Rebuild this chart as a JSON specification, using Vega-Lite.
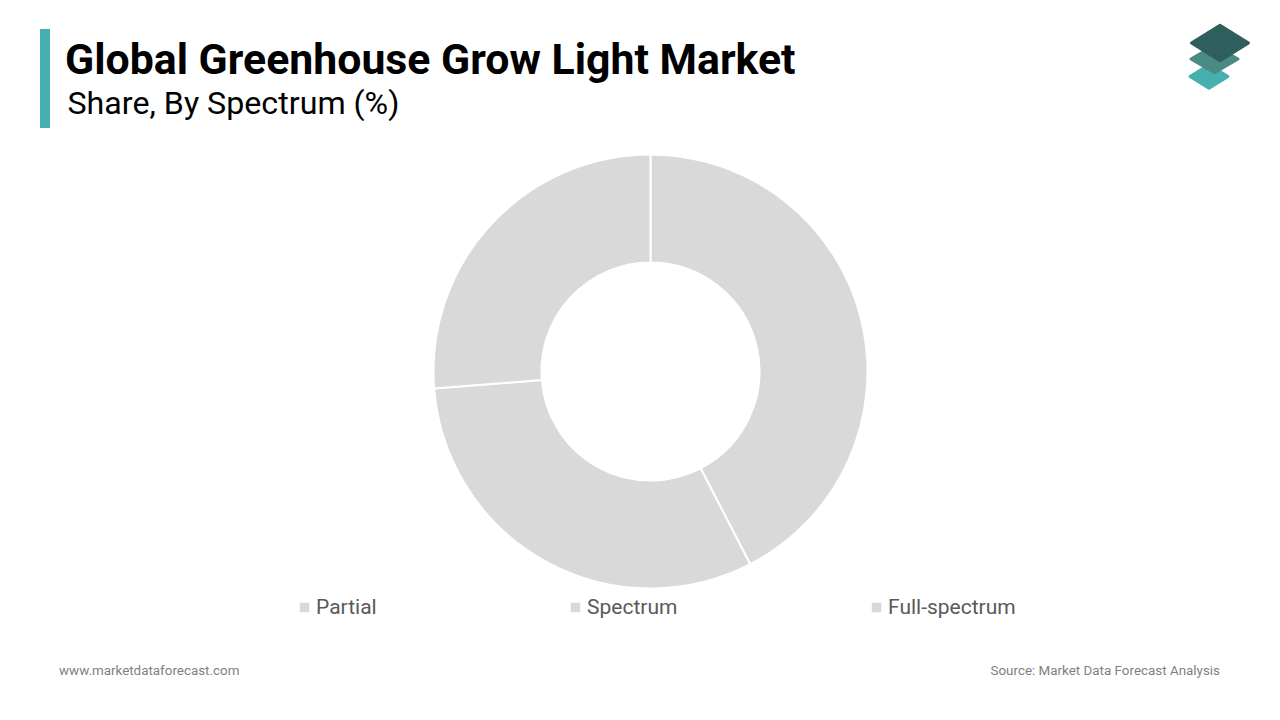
{
  "$schema": "https://vega.github.io/schema/vega-lite/v6.json",
  "width": 1280,
  "height": 720,
  "autosize": {"type": "none"},
  "padding": 0,
  "background": "white",
  "config": {
    "view": {"stroke": null},
    "axis": {"disable": true},
    "text": {"font": "Roboto"}
  },
  "layer": [
    {
      "data": {"values": [
        {"spectrum": "Partial", "share": 42.4},
        {"spectrum": "Spectrum", "share": 31.35},
        {"spectrum": "Full-spectrum", "share": 26.25}
      ]},
      "mark": {"type": "arc", "innerRadius": 109, "outerRadius": 217, "stroke": "white", "strokeWidth": 2},
      "encoding": {
        "x": {"datum": 650.5, "type": "quantitative", "scale": {"domain": [0, 1280], "range": [0, 1280], "nice": false, "zero": false}},
        "y": {"datum": 371.5, "type": "quantitative", "scale": {"domain": [0, 720], "range": [0, 720], "nice": false, "zero": false}},
        "theta": {"field": "share", "type": "quantitative", "stack": true, "scale": {"domain": [0, 100]}},
        "order": {"field": "share", "sort": "descending"},
        "color": {
          "field": "spectrum",
          "type": "nominal",
          "sort": ["Partial", "Spectrum", "Full-spectrum"],
          "scale": {"range": ["#d9d9d9", "#d9d9d9", "#d9d9d9"]},
          "legend": {
            "title": null,
            "orient": "none",
            "legendX": 294,
            "legendY": 597,
            "direction": "horizontal",
            "columns": 3,
            "gridAlign": "none",
            "columnPadding": 188,
            "symbolType": "square",
            "symbolSize": 90,
            "symbolStrokeWidth": 0,
            "labelFont": "Roboto",
            "labelFontSize": 21,
            "labelColor": "#595959",
            "labelOffset": 1
          }
        }
      }
    },
    {
      "data": {"values": [{}]},
      "mark": {"type": "rect", "color": "#46aeae"},
      "encoding": {
        "x": {"datum": 40, "type": "quantitative"},
        "x2": {"datum": 50},
        "y": {"datum": 29, "type": "quantitative"},
        "y2": {"datum": 128}
      }
    },
    {
      "data": {"values": [{}]},
      "mark": {"type": "text", "text": "Global Greenhouse Grow Light Market", "fontSize": 42.8, "fontWeight": "bold", "color": "#000000", "align": "left", "baseline": "alphabetic"},
      "encoding": {"x": {"datum": 65, "type": "quantitative"}, "y": {"datum": 74, "type": "quantitative"}}
    },
    {
      "data": {"values": [{}]},
      "mark": {"type": "text", "text": "Share, By Spectrum (%)", "fontSize": 32.2, "color": "#000000", "align": "left", "baseline": "alphabetic"},
      "encoding": {"x": {"datum": 67.5, "type": "quantitative"}, "y": {"datum": 114, "type": "quantitative"}}
    },
    {
      "data": {"values": [{}]},
      "mark": {"type": "text", "text": "www.marketdataforecast.com", "fontSize": 13.4, "color": "#7f7f7f", "align": "left", "baseline": "alphabetic"},
      "encoding": {"x": {"datum": 59, "type": "quantitative"}, "y": {"datum": 675, "type": "quantitative"}}
    },
    {
      "data": {"values": [{}]},
      "mark": {"type": "text", "text": "Source: Market Data Forecast Analysis", "fontSize": 13.4, "color": "#7f7f7f", "align": "right", "baseline": "alphabetic"},
      "encoding": {"x": {"datum": 1220, "type": "quantitative"}, "y": {"datum": 675, "type": "quantitative"}}
    },
    {
      "data": {"values": [{}]},
      "mark": {"type": "point", "shape": "M0,-0.62L1,0L0,0.62L-1,0Z", "filled": true, "opacity": 1, "fill": "#46b0ae", "stroke": "#46b0ae", "strokeWidth": 3, "strokeJoin": "round", "size": 1444},
      "encoding": {"x": {"datum": 1209, "type": "quantitative"}, "y": {"datum": 76.5, "type": "quantitative"}}
    },
    {
      "data": {"values": [{}]},
      "mark": {"type": "point", "shape": "M0,-0.58L1,0L0,0.58L-1,0Z", "filled": true, "opacity": 1, "fill": "#4a8b86", "stroke": "#4a8b86", "strokeWidth": 3, "strokeJoin": "round", "size": 2209},
      "encoding": {"x": {"datum": 1214.5, "type": "quantitative"}, "y": {"datum": 59, "type": "quantitative"}}
    },
    {
      "data": {"values": [{}]},
      "mark": {"type": "point", "shape": "M0,-0.62L1,0L0,0.62L-1,0Z", "filled": true, "opacity": 1, "fill": "#2e5f5c", "stroke": "#2e5f5c", "strokeWidth": 3, "strokeJoin": "round", "size": 3249},
      "encoding": {"x": {"datum": 1220, "type": "quantitative"}, "y": {"datum": 43, "type": "quantitative"}}
    }
  ]
}
